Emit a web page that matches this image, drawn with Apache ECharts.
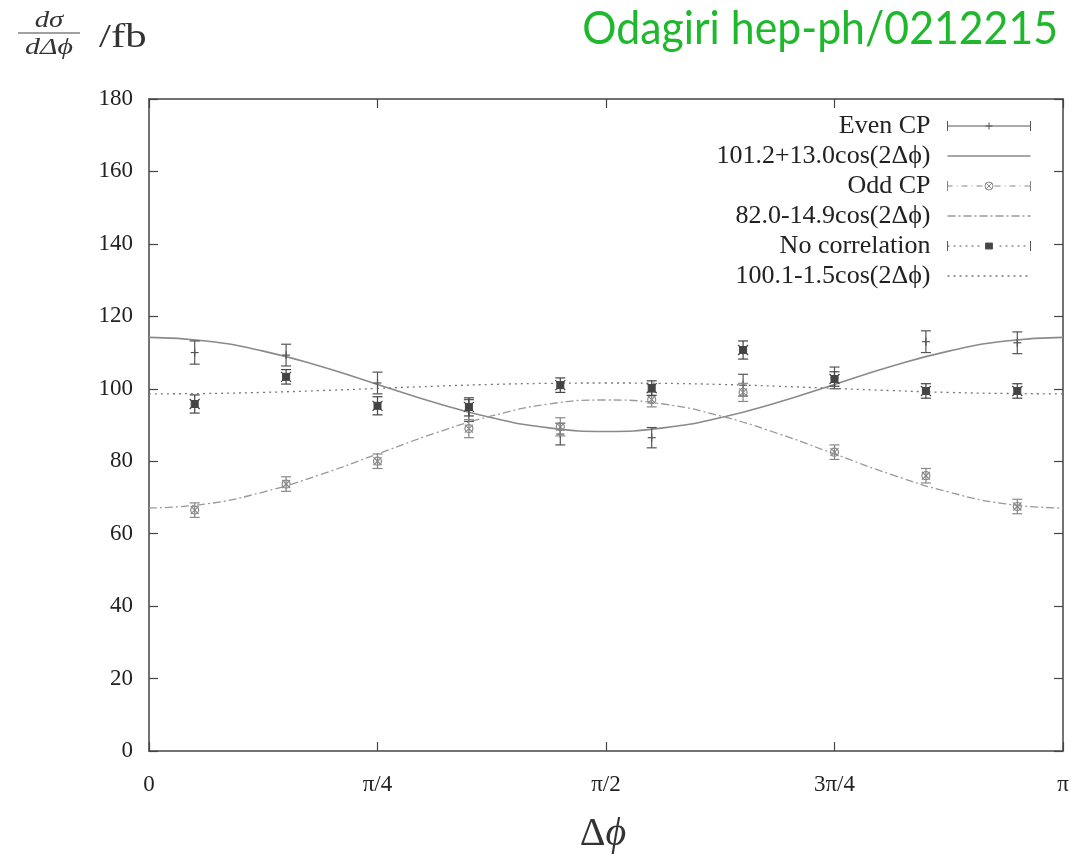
<!DOCTYPE html>
<html><head><meta charset="utf-8">
<script src="https://cdn.jsdelivr.net/npm/echarts@6/dist/echarts.min.js"></script>
<style>html,body{margin:0;padding:0;background:#fff}#c{width:1085px;height:858px}</style>
</head><body><div id="c"></div>
<script>
// x positions in units of pi
const binX = [0.05, 0.15, 0.25, 0.35, 0.45, 0.55, 0.65, 0.75, 0.85, 0.95];
const evenVals = [110.0, 109.3, 101.6, 94.0, 87.5, 86.5, 101.0, 103.0, 113.0, 112.7];
const evenErr  = [3.2, 3.0, 3.0, 3.0, 3.0, 2.8, 3.0, 3.0, 3.0, 3.0];
const oddVals  = [66.5, 73.7, 80.0, 89.0, 89.5, 97.0, 99.0, 82.5, 76.0, 67.5];
const oddErr   = [2.0, 2.0, 2.0, 2.5, 2.5, 2.0, 2.5, 2.0, 2.0, 2.0];
const noneVals = [95.8, 103.3, 95.3, 95.0, 101.0, 100.2, 110.7, 102.7, 99.4, 99.4];
const noneErr  = [2.5, 2.0, 2.5, 2.5, 2.0, 2.0, 2.5, 2.0, 2.0, 2.0];
// fitted curves at steps of pi/16
const curveX = [0, 0.0625, 0.125, 0.1875, 0.25, 0.3125, 0.375, 0.4375, 0.5, 0.5625, 0.625, 0.6875, 0.75, 0.8125, 0.875, 0.9375, 1];
const evenFit = [114.2, 113.2, 110.4, 106.2, 101.2, 96.2, 92.0, 89.2, 88.2, 89.2, 92.0, 96.2, 101.2, 106.2, 110.4, 113.2, 114.2];
const oddFit  = [67.1, 68.2, 71.5, 76.3, 82.0, 87.7, 92.5, 95.8, 96.9, 95.8, 92.5, 87.7, 82.0, 76.3, 71.5, 68.2, 67.1];
const noneFit = [98.6, 98.7, 99.0, 99.5, 100.1, 100.7, 101.2, 101.5, 101.6, 101.5, 101.2, 100.7, 100.1, 99.5, 99.0, 98.7, 98.6];
const xTickLabels = ['0', 'π/4', 'π/2', '3π/4', 'π'];
const seriesNames = ['Even CP', '101.2+13.0cos(2Δϕ)', 'Odd CP', '82.0-14.9cos(2Δϕ)', 'No correlation', '100.1-1.5cos(2Δϕ)'];

const zip3 = (a, b, c) => a.map((v, i) => [v, b[i], c[i]]);
const zip2 = (a, b) => a.map((v, i) => [v, b[i]]);

function errRender(kind, color) {
  return function (params, api) {
    const x = api.value(0), y = api.value(1), e = api.value(2);
    const p = api.coord([x, y]);
    const hi = api.coord([x, y + e]);
    const lo = api.coord([x, y - e]);
    const cw = 5;
    const st = { stroke: color, lineWidth: 1.2, fill: null };
    const ch = [
      { type: 'line', shape: { x1: p[0], y1: hi[1], x2: p[0], y2: lo[1] }, style: st },
      { type: 'line', shape: { x1: p[0] - cw, y1: hi[1], x2: p[0] + cw, y2: hi[1] }, style: st },
      { type: 'line', shape: { x1: p[0] - cw, y1: lo[1], x2: p[0] + cw, y2: lo[1] }, style: st }
    ];
    if (kind === 'plus') {
      ch.push({ type: 'line', shape: { x1: p[0] - 4, y1: p[1], x2: p[0] + 4, y2: p[1] }, style: st });
      ch.push({ type: 'line', shape: { x1: p[0], y1: p[1] - 4, x2: p[0], y2: p[1] + 4 }, style: st });
    } else if (kind === 'circx') {
      ch.push({ type: 'circle', shape: { cx: p[0], cy: p[1], r: 4 }, style: st });
      ch.push({ type: 'line', shape: { x1: p[0] - 4, y1: p[1] - 4, x2: p[0] + 4, y2: p[1] + 4 }, style: st });
      ch.push({ type: 'line', shape: { x1: p[0] - 4, y1: p[1] + 4, x2: p[0] + 4, y2: p[1] - 4 }, style: st });
    } else {
      ch.push({ type: 'rect', shape: { x: p[0] - 3.5, y: p[1] - 3.5, width: 7, height: 7 }, style: { fill: color, stroke: color, lineWidth: 1 } });
      ch.push({ type: 'line', shape: { x1: p[0] - 5, y1: p[1] - 5, x2: p[0] + 5, y2: p[1] + 5 }, style: st });
      ch.push({ type: 'line', shape: { x1: p[0] - 5, y1: p[1] + 5, x2: p[0] + 5, y2: p[1] - 5 }, style: st });
    }
    return { type: 'group', children: ch };
  };
}

const serif = '"Liberation Serif", "DejaVu Serif", serif';
const axisCol = '#444';
const linePath = 'path://M0,0L0,0M0,6L83,6M0,12L0,12';

const chart = echarts.init(document.getElementById('c'), null, { renderer: 'canvas' });
const xCommon = {
  type: 'value', min: 0, max: 1, interval: 0.25,
  axisLine: { show: true, onZero: false, lineStyle: { color: axisCol, width: 1.5 } },
  axisTick: { show: true, inside: true, length: 9, lineStyle: { color: axisCol, width: 1.2 } },
  splitLine: { show: false }
};
const yCommon = {
  type: 'value', min: 0, max: 180, interval: 20,
  axisLine: { show: true, onZero: false, lineStyle: { color: axisCol, width: 1.5 } },
  axisTick: { show: true, inside: true, length: 9, lineStyle: { color: axisCol, width: 1.2 } },
  splitLine: { show: false }
};
chart.setOption({
  animation: false,
  backgroundColor: '#fff',
  grid: { left: 149, right: 22, top: 99, bottom: 107 },
  xAxis: [
    Object.assign({}, xCommon, {
      position: 'bottom',
      axisLabel: { margin: 22, fontFamily: serif, fontSize: 23, color: '#222',
        formatter: v => xTickLabels[Math.round(v * 4)] }
    }),
    Object.assign({}, xCommon, { position: 'top', axisLabel: { show: false } })
  ],
  yAxis: [
    Object.assign({}, yCommon, {
      position: 'left',
      axisLabel: { margin: 16, fontFamily: serif, fontSize: 23, color: '#222' }
    }),
    Object.assign({}, yCommon, { position: 'right', axisLabel: { show: false } })
  ],
  legend: {
    orient: 'vertical', align: 'right', right: 52, top: 113, padding: 0,
    itemWidth: 83, itemHeight: 12, itemGap: 4, selectedMode: false,
    textStyle: { fontFamily: serif, fontSize: 26, color: '#222', lineHeight: 20, padding: [0, 12, 0, 0] },
    data: [
      { name: seriesNames[0], icon: 'path://M0,6L83,6M0,1L0,11M83,1L83,11M38,6L45,6M41.5,2.5L41.5,9.5',
        itemStyle: { color: 'none', borderColor: '#555', borderWidth: 1 } },
      { name: seriesNames[1], icon: linePath,
        itemStyle: { color: 'none', borderColor: '#8a8a8a', borderWidth: 1.6, borderType: 'solid' } },
      { name: seriesNames[2], icon: 'path://M0,6L5,6M9,6L10,6M14,6L20,6M24,6L25,6M29,6L35,6M47,6L53,6M57,6L58,6M62,6L68,6M72,6L73,6M77,6L83,6M0,1L0,11M83,1L83,11M37.5,6a4,4 0 1,0 8,0a4,4 0 1,0 -8,0M38.5,3L44.5,9M38.5,9L44.5,3',
        itemStyle: { color: 'none', borderColor: '#888', borderWidth: 1 } },
      { name: seriesNames[3], icon: linePath,
        itemStyle: { color: 'none', borderColor: '#999', borderWidth: 1.3, borderType: [8, 3, 2, 3] } },
      { name: seriesNames[4], icon: 'path://M0,6L2,6M6,6L8,6M12,6L14,6M18,6L20,6M24,6L26,6M30,6L32,6M52,6L54,6M58,6L60,6M64,6L66,6M70,6L72,6M76,6L78,6M0,1L0,11M83,1L83,11M38,3L45,3L45,9L38,9Z',
        itemStyle: { color: '#444', borderColor: '#555', borderWidth: 1 } },
      { name: seriesNames[5], icon: linePath,
        itemStyle: { color: 'none', borderColor: '#777', borderWidth: 1.3, borderType: [2, 4] } }
    ]
  },
  series: [
    { name: seriesNames[0], type: 'custom', renderItem: errRender('plus', '#555'),
      data: zip3(binX, evenVals, evenErr), itemStyle: { color: '#555' }, z: 5 },
    { name: seriesNames[1], type: 'line', smooth: true, symbol: 'none',
      data: zip2(curveX, evenFit), lineStyle: { color: '#8a8a8a', width: 1.6, type: 'solid' }, itemStyle: { color: '#8a8a8a' } },
    { name: seriesNames[2], type: 'custom', renderItem: errRender('circx', '#888'),
      data: zip3(binX, oddVals, oddErr), itemStyle: { color: '#888' }, z: 5 },
    { name: seriesNames[3], type: 'line', smooth: true, symbol: 'none',
      data: zip2(curveX, oddFit), lineStyle: { color: '#999', width: 1.3, type: [8, 3, 2, 3] }, itemStyle: { color: '#999' } },
    { name: seriesNames[4], type: 'custom', renderItem: errRender('square', '#444'),
      data: zip3(binX, noneVals, noneErr), itemStyle: { color: '#444' }, z: 5 },
    { name: seriesNames[5], type: 'line', smooth: true, symbol: 'none',
      data: zip2(curveX, noneFit), lineStyle: { color: '#777', width: 1.3, type: [2, 4] }, itemStyle: { color: '#777' } }
  ],
  graphic: [
    { type: 'text', x: 1058, y: 29, scaleX: 0.93, originX: 0, style: { text: 'Odagiri hep-ph/0212215', font: '46px Lato, "Open Sans", sans-serif', fill: '#1fb82d', align: 'right', verticalAlign: 'middle' } },
    { type: 'text', x: 49, y: 21, scaleX: 1.25, style: { text: 'dσ', font: 'italic 23px ' + serif, fill: '#333', align: 'center', verticalAlign: 'middle' } },
    { type: 'line', shape: { x1: 18, y1: 33, x2: 80, y2: 33 }, style: { stroke: '#444', lineWidth: 1.2 } },
    { type: 'text', x: 49, y: 48, scaleX: 1.3, style: { text: 'dΔϕ', font: 'italic 23px ' + serif, fill: '#333', align: 'center', verticalAlign: 'middle' } },
    { type: 'text', x: 99, y: 38, scaleX: 1.3, style: { text: '/fb', font: '33px ' + serif, fill: '#333', verticalAlign: 'middle' } },
    { type: 'text', x: 603, y: 834, style: { text: '{a|Δ}{b|ϕ}', align: 'center', verticalAlign: 'middle',
      rich: { a: { font: '40px ' + serif, fill: '#333' }, b: { font: 'italic 40px ' + serif, fill: '#333' } } } }
  ]
});
</script></body></html>
